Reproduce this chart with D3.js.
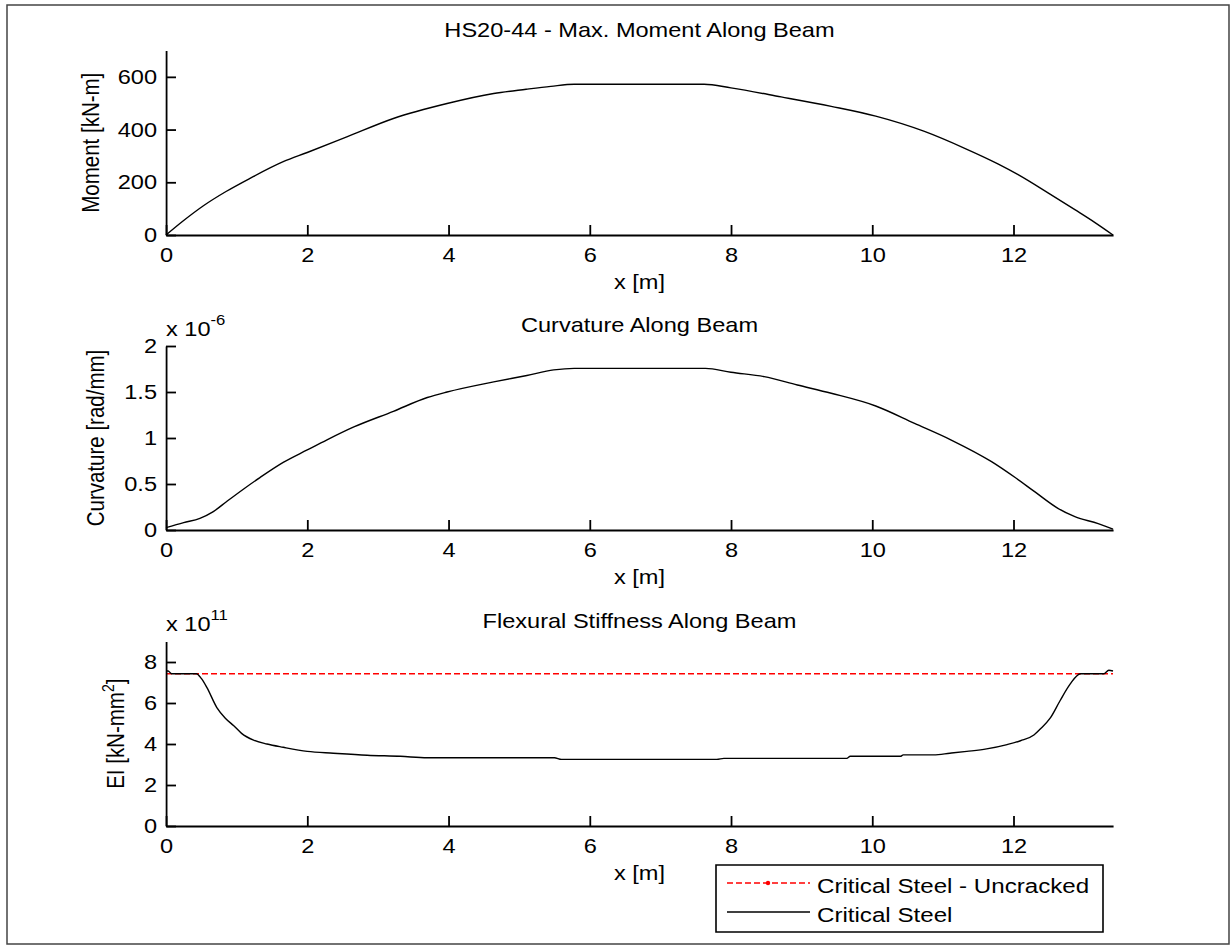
<!DOCTYPE html>
<html>
<head>
<meta charset="utf-8">
<script src="https://cdn.jsdelivr.net/npm/d3@7"></script>
<style>
  html, body { margin: 0; padding: 0; background: #fff; }
  svg { display: block; }
  text { font-family: "Liberation Sans", Arial, Helvetica, sans-serif; fill: #000; }
</style>
</head>
<body>
<svg id="fig" width="1231" height="949"></svg>
<script>
// ---- Data --------------------------------------------------------------
// Stations along the beam [m]
const momentX   = [0, 0.25, 0.53, 0.85, 1.19, 1.66, 2.0, 2.56, 3.22, 3.98, 4.64, 5.1, 5.45, 5.78, 6.2, 7.0, 7.62, 8.0, 8.71, 9.42, 10.05, 10.74, 11.31, 11.78, 12.06, 12.49, 12.87, 13.15, 13.41];
// Max. moment envelope [kN-m]
const momentVal = [0, 55, 111, 165, 215, 278, 313, 372, 442, 499, 537, 553, 564, 572, 572, 572, 572, 558, 524, 488, 451, 393, 329, 270, 230, 160, 96, 48, 0];

const curvX   = [0, 0.25, 0.48, 0.67, 0.86, 1.10, 1.33, 1.66, 2.0, 2.28, 2.66, 3.22, 3.70, 3.98, 4.64, 5.11, 5.49, 5.78, 7.64, 8.0, 8.47, 8.94, 9.42, 10.05, 10.60, 11.12, 11.69, 12.04, 12.30, 12.63, 12.87, 13.20, 13.41];
// Curvature [x 1e-6 rad/mm]
const curvVal = [0.025, 0.08, 0.127, 0.2, 0.31, 0.446, 0.57, 0.735, 0.87, 0.98, 1.12, 1.29, 1.44, 1.50, 1.61, 1.68, 1.74, 1.757, 1.757, 1.714, 1.667, 1.576, 1.486, 1.348, 1.159, 0.978, 0.743, 0.562, 0.417, 0.236, 0.145, 0.07, 0.01];

const eiX   = [0, 0.03, 0.08, 0.43, 0.5, 0.58, 0.72, 0.84, 0.96, 1.07, 1.24, 1.43, 1.66, 2.0, 2.37, 2.85, 3.32, 3.7, 5.5, 5.6, 7.8, 7.9, 9.64, 9.69, 10.40, 10.44, 10.87, 11.1, 11.34, 11.62, 11.91, 12.10, 12.29, 12.38, 12.52, 12.66, 12.80, 12.95, 13.28, 13.35, 13.41];
// Flexural stiffness, critical steel [x 1e11 kN-mm^2]
const eiVal = [7.56, 7.56, 7.43, 7.43, 7.2, 6.75, 5.78, 5.26, 4.89, 4.52, 4.19, 4.0, 3.84, 3.64, 3.55, 3.45, 3.40, 3.33, 3.33, 3.25, 3.25, 3.30, 3.30, 3.40, 3.40, 3.47, 3.47, 3.55, 3.64, 3.76, 3.97, 4.16, 4.44, 4.73, 5.26, 6.11, 6.91, 7.43, 7.43, 7.6, 7.56];

// Uncracked section stiffness [x 1e11 kN-mm^2]
const uncrackedX   = [0, 13.41];
const uncrackedVal = [7.43, 7.43];

const xDomain     = [0, 13.41];
const xTicks      = [0, 2, 4, 6, 8, 10, 12];
const momentTicks = [0, 200, 400, 600];
const curvTicks   = [0, 0.5, 1, 1.5, 2];
const eiTicks     = [0, 2, 4, 6, 8];

const titles   = ["HS20-44 - Max. Moment Along Beam", "Curvature Along Beam", "Flexural Stiffness Along Beam"];
const xLabel   = "x [m]";
const legendLabels = ["Critical Steel - Uncracked", "Critical Steel"];

// ---- Layout ------------------------------------------------------------
// The figure is drawn in a horizontally stretched frame (S) so that the
// text keeps the wide look of the exported figure.
const S = 1.15;
const vx = px => px / S;
const FONT = 20.5;
const RED_DASH = "6,3";

const svg = d3.select("#fig");
svg.append("rect").attr("width", 1231).attr("height", 949).attr("fill", "#fff");
const root = svg.append("g").attr("transform", `scale(${S},1)`);

// outer figure frame
root.append("rect")
  .attr("x", vx(7)).attr("y", 5)
  .attr("width", vx(1222)).attr("height", 939)
  .attr("fill", "none").attr("stroke", "#444").attr("stroke-width", 1.5)
  .attr("vector-effect", "non-scaling-stroke");

const xScale = d3.scaleLinear().domain(xDomain).range([vx(166), vx(1113)]);

const panels = [
  { top: 50.5, bottom: 235, domain: [0, 700], ticks: momentTicks, fmt: d => String(d),
    label: "Moment [kN-m]", labelX: 99, title: titles[0],
    series: [{ x: momentX, y: momentVal, color: "#000", width: 1.4 }] },
  { top: 346, bottom: 530, domain: [0, 2], ticks: curvTicks, fmt: d => String(d),
    label: "Curvature [rad/mm]", labelX: 104, title: titles[1], exp: "-6",
    series: [{ x: curvX, y: curvVal, color: "#000", width: 1.4 }] },
  { top: 641.5, bottom: 826, domain: [0, 9], ticks: eiTicks, fmt: d => String(d),
    label: "EI [kN-mm", labelSup: "2", labelTail: "]", labelX: 124, title: titles[2], exp: "11",
    series: [
      { x: uncrackedX, y: uncrackedVal, color: "#ff0000", width: 1.4, dash: RED_DASH },
      { x: eiX, y: eiVal, color: "#000", width: 1.4 }
    ] }
];

panels.forEach(p => {
  const y = d3.scaleLinear().domain(p.domain).range([p.bottom, p.top]);
  const g = root.append("g");

  // data lines
  const line = d3.line()
    .x(d => xScale(d[0]))
    .y(d => y(d[1]))
    .curve(d3.curveMonotoneX);
  p.series.forEach(s => {
    g.append("path")
      .datum(s.x.map((xv, i) => [xv, s.y[i]]))
      .attr("d", line)
      .attr("fill", "none")
      .attr("stroke", s.color)
      .attr("stroke-width", s.width)
      .attr("stroke-dasharray", s.dash || null)
      .attr("stroke-linejoin", "round")
      .attr("vector-effect", "non-scaling-stroke");
  });

  // x axis (ticks point inward)
  const xAxis = g.append("g")
    .attr("transform", `translate(0,${p.bottom})`)
    .call(d3.axisBottom(xScale).tickValues(xTicks).tickFormat(d => String(d))
      .tickSizeInner(-10).tickSizeOuter(0).tickPadding(12));

  // y axis (ticks point inward)
  const yAxis = g.append("g")
    .attr("transform", `translate(${xScale(0)},0)`)
    .call(d3.axisLeft(y).tickValues(p.ticks).tickFormat(p.fmt)
      .tickSizeInner(-vx(10)).tickSizeOuter(0).tickPadding(vx(9)));

  [xAxis, yAxis].forEach(ax => {
    ax.attr("font-family", null).attr("font-size", null);
    ax.selectAll("path.domain, line")
      .attr("stroke", "#000").attr("stroke-width", 1.8)
      .attr("vector-effect", "non-scaling-stroke");
    ax.selectAll("text").style("font-size", FONT + "px").attr("fill", "#000");
  });

  // title
  g.append("text")
    .attr("x", vx(639.5)).attr("y", p.bottom - 198)
    .attr("text-anchor", "middle")
    .style("font-size", FONT + "px")
    .text(p.title);

  // x label
  g.append("text")
    .attr("x", vx(639.5)).attr("y", p.bottom + 54)
    .attr("text-anchor", "middle")
    .style("font-size", FONT + "px")
    .text(xLabel);

  // y label
  const yl = g.append("text")
    .attr("transform", `translate(${vx(p.labelX)},${(p.top + p.bottom) / 2}) rotate(-90)`)
    .attr("text-anchor", "middle")
    .style("font-size", FONT + "px")
    .text(p.label);
  if (p.labelSup) {
    yl.append("tspan").attr("dy", -9).style("font-size", "14px").text(p.labelSup);
    yl.append("tspan").attr("dy", 9).text(p.labelTail);
  }

  // axis multiplier
  if (p.exp) {
    const t = g.append("text")
      .attr("x", vx(166)).attr("y", p.top - 10)
      .style("font-size", FONT + "px")
      .text("x 10");
    t.append("tspan").attr("dy", -11).style("font-size", "14.5px").text(p.exp);
  }
});

// ---- Legend ------------------------------------------------------------
const lg = root.append("g");
lg.append("rect")
  .attr("x", vx(716)).attr("y", 865)
  .attr("width", vx(387)).attr("height", 67)
  .attr("fill", "#fff").attr("stroke", "#000").attr("stroke-width", 1.6)
  .attr("vector-effect", "non-scaling-stroke");

const legendRows = [
  { label: legendLabels[0], color: "#ff0000", dash: RED_DASH, width: 1.4, marker: true, ly: 883, ty: 893 },
  { label: legendLabels[1], color: "#000", dash: null, width: 1.4, marker: false, ly: 912, ty: 922 }
];
legendRows.forEach(r => {
  lg.append("line")
    .attr("x1", vx(727)).attr("x2", vx(810))
    .attr("y1", r.ly).attr("y2", r.ly)
    .attr("stroke", r.color).attr("stroke-width", r.width)
    .attr("stroke-dasharray", r.dash)
    .attr("vector-effect", "non-scaling-stroke");
  if (r.marker) {
    lg.append("ellipse")
      .attr("cx", vx(768)).attr("cy", r.ly)
      .attr("rx", vx(2.2)).attr("ry", 2.2)
      .attr("fill", r.color);
  }
  lg.append("text")
    .attr("x", vx(817)).attr("y", r.ty)
    .style("font-size", "21px")
    .text(r.label);
});
</script>
</body>
</html>
